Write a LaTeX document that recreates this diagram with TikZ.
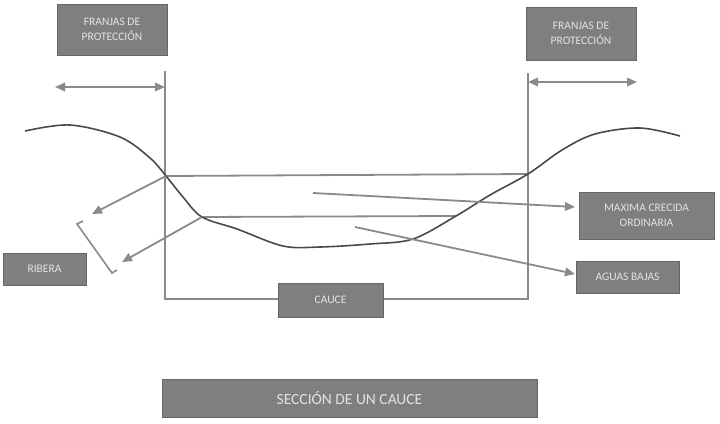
\documentclass[tikz,border=0pt]{standalone}
\usepackage{fontspec}
\setmainfont{Carlito}
\usetikzlibrary{arrows.meta}
\definecolor{boxgray}{HTML}{7F7F7F}
\definecolor{boxedge}{HTML}{666666}
\definecolor{boxtext}{HTML}{E3E3E3}
\definecolor{linegray}{HTML}{8A8A8A}
\definecolor{curvegray}{HTML}{4A4A4A}
\tikzset{
  label box/.style={draw=boxedge, line width=1pt, fill=boxgray, text=boxtext,
    inner sep=0pt, align=center, font=\fontsize{11.5}{14.5}\selectfont},
  guide/.style={draw=linegray, line width=1.8pt},
  pointer/.style={draw=linegray, line width=1.8pt, -{Triangle[length=10pt,width=8.5pt]}},
  twoway/.style={draw=linegray, line width=1.8pt, {Triangle[length=10pt,width=8.5pt]}-{Triangle[length=10pt,width=8.5pt]}},
  terrain/.style={draw=curvegray, line width=1.6pt}
}
\begin{document}
\begin{tikzpicture}[x=1pt,y=-1pt]
\useasboundingbox (0,0) rectangle (720,423);

% boxes
\node[label box, minimum width=110pt, minimum height=51pt] (fl) at (112,29.5) {FRANJAS DE\\PROTECCIÓN};
\node[label box, minimum width=110pt, minimum height=53pt] (fr) at (581,33.5) {FRANJAS DE\\PROTECCIÓN};
\node[label box, minimum width=135pt, minimum height=47pt] (mco) at (646.5,215.5) {MAXIMA CRECIDA\\ORDINARIA};
\node[label box, minimum width=103pt, minimum height=32pt] (ab) at (627.5,277) {AGUAS BAJAS};
\node[label box, minimum width=83pt, minimum height=32pt] (rib) at (44.5,269) {RIBERA};
\node[label box, minimum width=375pt, minimum height=38pt, font=\fontsize{15.5}{18}\selectfont] (sec) at (349.5,398) {SECCIÓN DE UN CAUCE};

% key points
\coordinate (ltop) at (165,71);
\coordinate (rtop) at (528,73);
\coordinate (lbot) at (165,299);
\coordinate (rbot) at (528,299);
\coordinate (L1) at (166,176);
\coordinate (R1) at (528,174);
\coordinate (W1) at (202,217);
\coordinate (W2) at (456,216);
\coordinate (lfar) at (55,87);
\coordinate (lnear) at (165,87);
\coordinate (rnear) at (528,82);
\coordinate (rfar) at (637,82);
\coordinate (ribA) at (92,214);
\coordinate (ribB) at (122,262);
\coordinate (mcoS) at (313,193);
\coordinate (mcoT) at (575,207);
\coordinate (abS) at (355,227);
\coordinate (abT) at (575,274);

% channel frame (cauce box sits on the bottom line)
\draw[guide] (ltop) -- (lbot) -- (rbot) -- (rtop);
\node[label box, minimum width=105pt, minimum height=34pt] (cauce) at (330.5,300) {CAUCE};

% water levels
\draw[guide] (L1) -- (R1);
\draw[guide] (W1) -- (W2);

% terrain profile
\draw[terrain] plot[smooth, tension=0.55] coordinates {
  (25,131) (70,125) (120,137) (150,158) (L1) (183,197) (W1) (237,229)
  (283,246) (320,247) (370,244) (413,239) (W2) (490,195) (R1) (562,150)
  (595,134) (640,128) (680,136)};

% protection strip arrows
\draw[twoway] (lfar) -- (lnear);
\draw[twoway] (rnear) -- (rfar);

% ribera pointers and bracket
\draw[pointer] (L1) -- (ribA);
\draw[pointer] (W1) -- (ribB);
\draw[draw=linegray, line width=1.6pt] (83,221) -- (77,224) -- (112,273) -- (117,270);

% level pointers
\draw[pointer] (mcoS) -- (mcoT);
\draw[pointer] (abS) -- (abT);
\end{tikzpicture}
\end{document}
